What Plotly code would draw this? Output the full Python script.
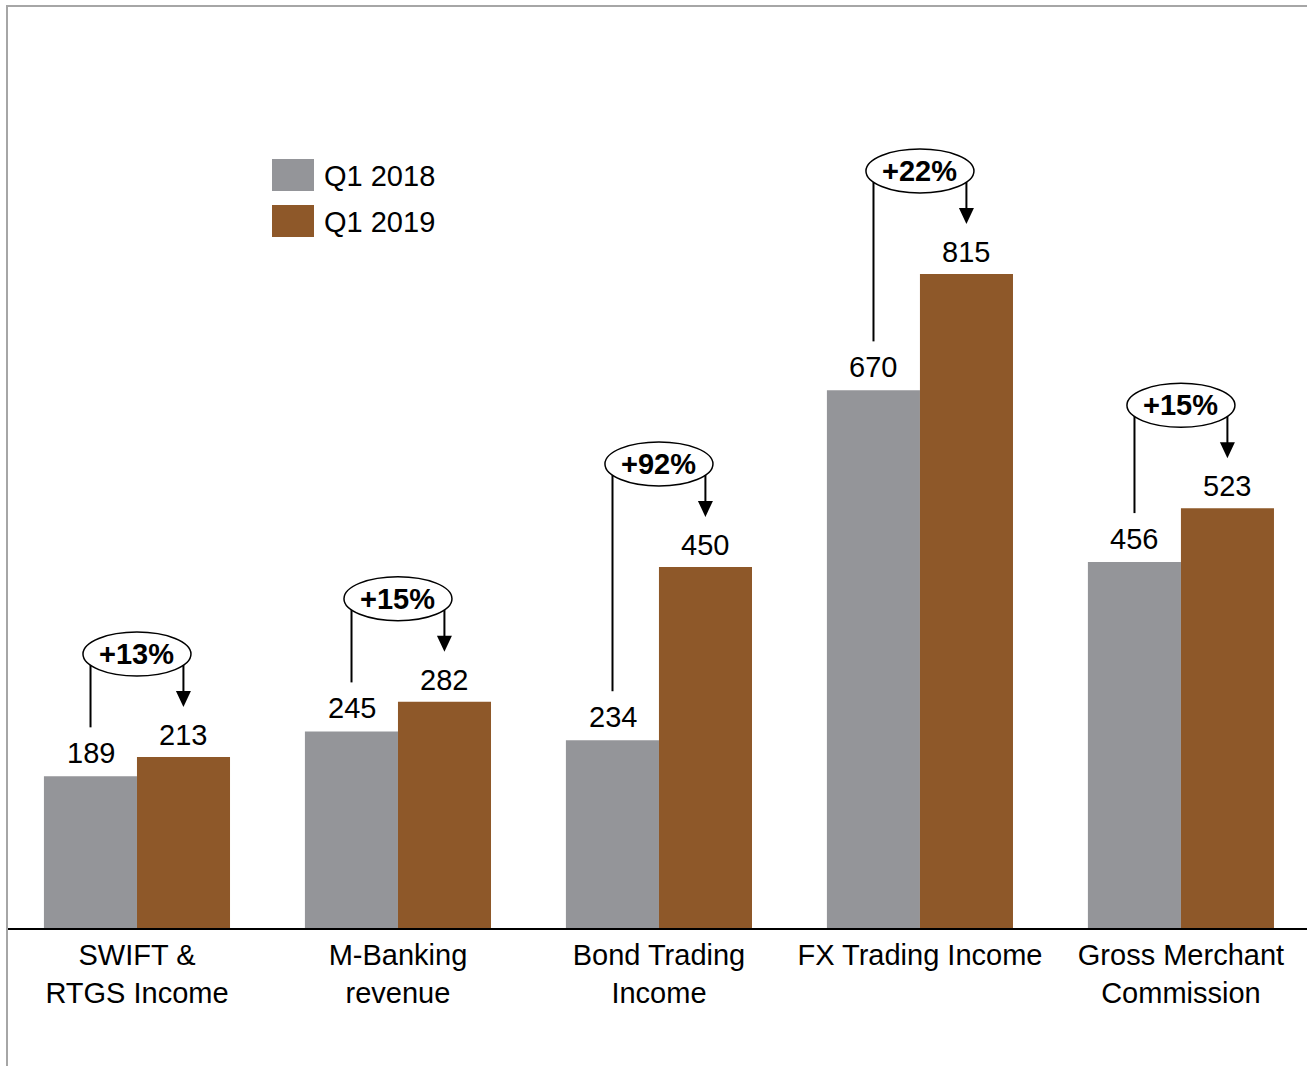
import plotly.graph_objects as go

# Income lines (values in the reporting currency, millions)
categories = ["SWIFT &<br>RTGS Income", "M-Banking<br>revenue", "Bond Trading<br>Income",
              "FX Trading Income", "Gross Merchant<br>Commission"]
q1_2018 = [189, 245, 234, 670, 456]
q1_2019 = [213, 282, 450, 815, 523]
series_names = ["Q1 2018", "Q1 2019"]

GREY = "#949599"
BROWN = "#8E5829"
FONT = "Liberation Sans, Arial, sans-serif"
FS = 29

W, H = 1307, 1066
M_L, M_R, M_T, M_B = 7, 0, 6, 138
PLOT_H = H - M_T - M_B
PLOT_W = W - M_L - M_R
Y_MAX = 1149
U = Y_MAX / PLOT_H          # data units per pixel
X_RANGE = [-0.498, 4.483]
XU = (X_RANGE[1] - X_RANGE[0]) / PLOT_W   # x units per pixel
BAR_OFF = 0.178             # centre offset of each bar inside a group

x = list(range(len(categories)))

fig = go.Figure()
fig.add_trace(go.Bar(x=x, y=q1_2018, name=series_names[0], marker_color=GREY,
                     marker_line_width=0))
fig.add_trace(go.Bar(x=x, y=q1_2019, name=series_names[1], marker_color=BROWN,
                     marker_line_width=0))

shapes = []
annotations = []

for i, (a, b) in enumerate(zip(q1_2018, q1_2019)):
    growth = round((b / a - 1) * 100)
    cy = b + 103 * U                  # centre of the growth bubble
    ry = 22 * U
    rx = 54 * XU
    # connector from the 2018 bar up into the bubble
    shapes.append(dict(type="line", xref="x", yref="y", x0=i - BAR_OFF, x1=i - BAR_OFF,
                       y0=a + 49 * U, y1=cy, line=dict(color="black", width=2)))
    # connector from the bubble down to the 2019 bar
    shapes.append(dict(type="line", xref="x", yref="y", x0=i + BAR_OFF, x1=i + BAR_OFF,
                       y0=cy, y1=b + 62 * U, line=dict(color="black", width=2)))
    # arrow head
    tip = b + 50 * U
    hw = 7.5 * XU
    shapes.append(dict(type="path", xref="x", yref="y",
                       path=f"M {i + BAR_OFF - hw},{tip + 16 * U} L {i + BAR_OFF + hw},{tip + 16 * U} "
                            f"L {i + BAR_OFF},{tip} Z",
                       fillcolor="black", line=dict(color="black", width=0)))
    # bubble
    shapes.append(dict(type="circle", xref="x", yref="y", x0=i - rx, x1=i + rx,
                       y0=cy - ry, y1=cy + ry, fillcolor="white",
                       line=dict(color="black", width=1.5)))
    annotations.append(dict(x=i, y=cy, xref="x", yref="y", text=f"<b>+{growth}%</b>",
                            showarrow=False, font=dict(size=FS, family=FONT, color="black"),
                            yanchor="middle", xanchor="center"))
    # value labels
    annotations.append(dict(x=i - BAR_OFF, y=a, xref="x", yref="y", text=str(a),
                            showarrow=False, font=dict(size=FS, family=FONT, color="black"),
                            yanchor="middle", yshift=23))
    annotations.append(dict(x=i + BAR_OFF, y=b, xref="x", yref="y", text=str(b),
                            showarrow=False, font=dict(size=FS, family=FONT, color="black"),
                            yanchor="middle", yshift=22))


def px_x(p):
    return (p - M_L) / PLOT_W


def px_y(p):
    return (H - M_B - p) / PLOT_H


# legend drawn as swatches with labels
for k, (name, col) in enumerate(zip(series_names, [GREY, BROWN])):
    top = 159 + 46 * k
    shapes.append(dict(type="rect", xref="paper", yref="paper", x0=px_x(272), x1=px_x(314),
                       y0=px_y(top + 32), y1=px_y(top), fillcolor=col, line=dict(width=0)))
    annotations.append(dict(x=px_x(322), y=px_y(top + 17), xref="paper", yref="paper",
                            text=name, showarrow=False, xanchor="left", yanchor="middle",
                            font=dict(size=FS, family=FONT, color="black")))

# frame lines along the top and left edge
shapes.append(dict(type="line", xref="paper", yref="paper", x0=px_x(6), x1=px_x(W),
                   y0=px_y(6), y1=px_y(6), line=dict(color="#A6A6A6", width=2)))
shapes.append(dict(type="line", xref="paper", yref="paper", x0=px_x(7), x1=px_x(7),
                   y0=px_y(6), y1=px_y(H), line=dict(color="#A6A6A6", width=2)))

fig.update_layout(
    width=W, height=H,
    margin=dict(l=M_L, r=M_R, t=M_T, b=M_B, pad=0),
    plot_bgcolor="white", paper_bgcolor="white",
    barmode="group", bargap=0.287, bargroupgap=0,
    showlegend=False,
    shapes=shapes, annotations=annotations,
    font=dict(family=FONT, size=FS, color="black"),
    xaxis=dict(tickmode="array", tickvals=x, ticktext=categories, range=X_RANGE,
               showgrid=False, zeroline=False, ticks="", showline=True,
               linecolor="black", linewidth=2, tickfont=dict(size=FS, family=FONT),
               fixedrange=True),
    yaxis=dict(range=[0, Y_MAX], visible=False, showgrid=False, zeroline=False,
               fixedrange=True),
)

fig.write_html("out.html", config={"displayModeBar": False})
